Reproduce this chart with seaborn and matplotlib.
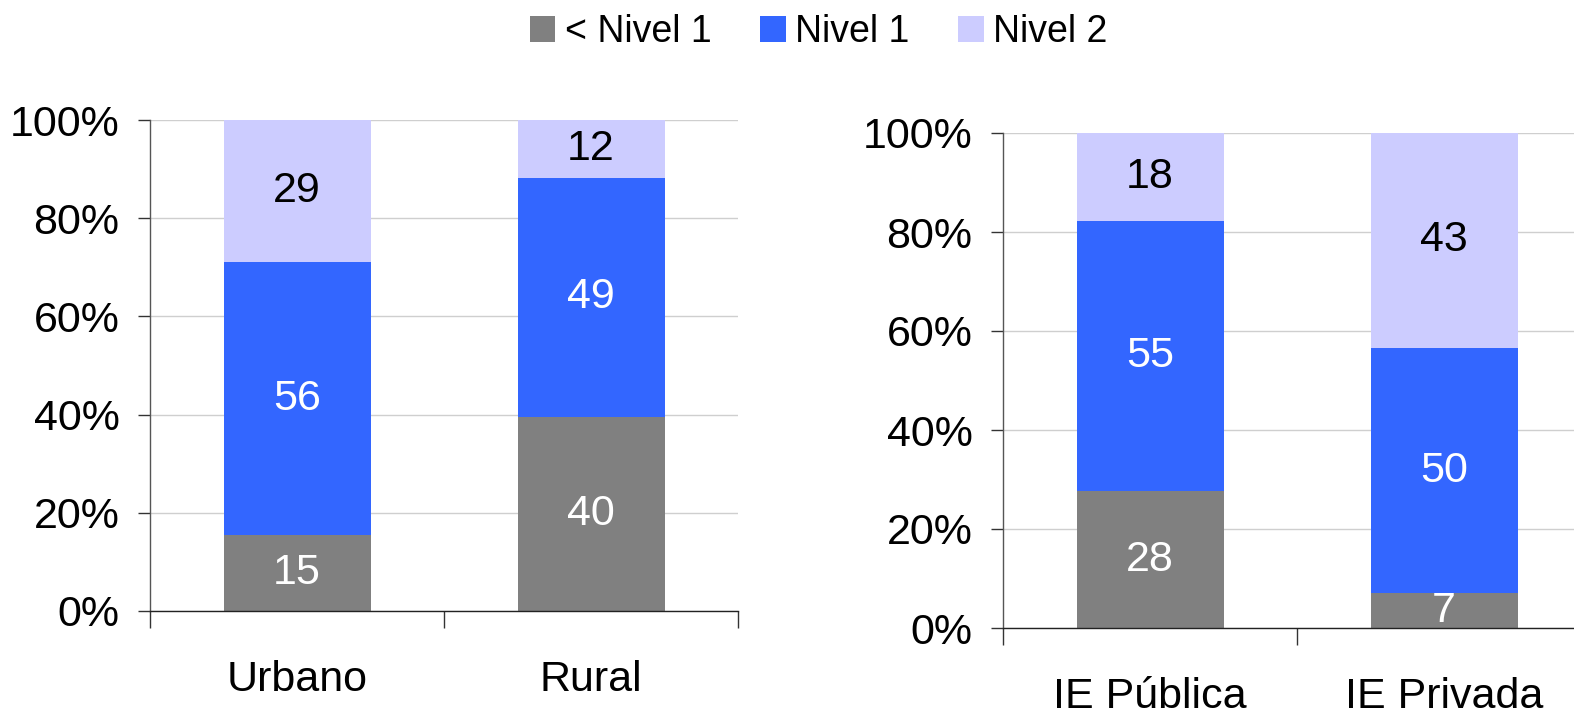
import seaborn as sns
import numpy as np
import pandas as pd
import matplotlib.pyplot as plt
from matplotlib.patches import Patch
from matplotlib.ticker import FixedLocator, PercentFormatter

# Level names and colours
levels = ["< Nivel 1", "Nivel 1", "Nivel 2"]
level_colors = ["#808080", "#3366FF", "#CCCCFF"]
label_colors = ["white", "white", "black"]

# Left panel: area
area_cats = ["Urbano", "Rural"]
area_below = [15.4, 39.6]
area_n1 = [55.6, 48.6]
area_n2 = [29.0, 11.8]

# Right panel: school type
school_cats = ["IE Pública", "IE Privada"]
school_below = [27.6, 7.0]
school_n1 = [54.6, 49.6]
school_n2 = [17.8, 43.4]

sns.set_theme(style="white")
plt.rcParams["font.family"] = ["Liberation Sans", "DejaVu Sans"]
plt.rcParams["text.color"] = "black"
plt.rcParams["xtick.color"] = "black"
plt.rcParams["ytick.color"] = "black"
FS = 31


def stacked(ax, cats, parts):
    # stack by drawing cumulative totals, tallest first
    cum = np.cumsum(np.array(parts), axis=0)
    for i in reversed(range(len(parts))):
        df = pd.DataFrame({"cat": cats, "val": cum[i]})
        sns.barplot(data=df, x="cat", y="val", color=level_colors[i],
                    saturation=1, width=0.5, ax=ax, linewidth=0)
    # segment labels
    for i in range(len(parts)):
        for j, c in enumerate(cats):
            base = cum[i][j] - parts[i][j]
            ax.text(j, base + parts[i][j] / 2, f"{parts[i][j]:.0f}",
                    ha="center", va="center", fontsize=FS, color=label_colors[i])

    ax.set_xlim(-0.5, len(cats) - 0.5)
    ax.set_ylim(0, 100)
    ax.yaxis.set_major_locator(FixedLocator([0, 20, 40, 60, 80, 100]))
    ax.yaxis.set_major_formatter(PercentFormatter(decimals=0))
    ax.xaxis.set_minor_locator(FixedLocator(np.arange(len(cats) + 1) - 0.5))
    ax.tick_params(axis="x", which="major", length=0, pad=35, labelsize=FS,
                   labelcolor="black")
    ax.tick_params(axis="x", which="minor", length=12, width=1, color="#333333",
                   direction="out", bottom=True)
    ax.tick_params(axis="y", length=9, width=1, color="#333333", direction="out",
                   left=True, pad=13, labelsize=FS, labelcolor="black")
    ax.set_xlabel("")
    ax.set_ylabel("")
    ax.yaxis.grid(True, color="#CFCFCF", linewidth=1)
    ax.set_axisbelow(True)
    for s in ["top", "right"]:
        ax.spines[s].set_visible(False)
    ax.spines["left"].set_color("#555555")
    ax.spines["bottom"].set_color("#222222")
    for s in ["left", "bottom"]:
        ax.spines[s].set_linewidth(1)


fig = plt.figure(figsize=(15.74, 7.14), dpi=100)
ax1 = fig.add_axes([150 / 1574, 103 / 714, 588 / 1574, 491 / 714])
ax2 = fig.add_axes([1003 / 1574, 86 / 714, 588 / 1574, 495 / 714])

stacked(ax1, area_cats, [area_below, area_n1, area_n2])
stacked(ax2, school_cats, [school_below, school_n1, school_n2])

handles = [Patch(facecolor=c, edgecolor="none", label=l) for c, l in zip(level_colors, levels)]
fig.legend(handles=handles, loc="center", bbox_to_anchor=(0.52, 0.955), ncol=3,
           frameon=False, fontsize=27, handlelength=0.68, handleheight=0.68,
           handletextpad=0.25, columnspacing=1.3)

fig.savefig("out.png", dpi=100)
